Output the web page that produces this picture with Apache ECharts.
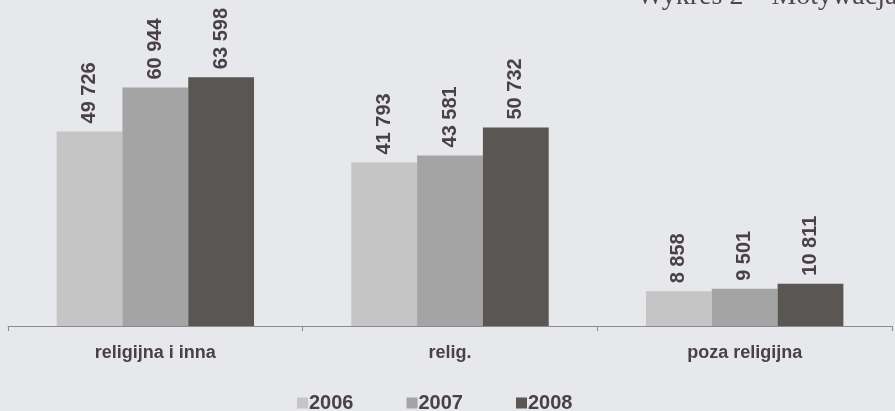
<!DOCTYPE html>
<html>
<head>
<meta charset="utf-8">
<script src="https://cdn.jsdelivr.net/npm/echarts@6/dist/echarts.min.js"></script>
<style>
  html, body { margin: 0; padding: 0; background: #e7e8eb; }
  #chart { width: 895px; height: 411px; }
</style>
</head>
<body>
<div id="chart"></div>
<script>
// Motywacja: liczba osób wg rodzaju motywacji, lata 2006–2008
const categories = ['religijna i inna', 'relig.', 'poza religijna'];
const years = ['2006', '2007', '2008'];
const values2006 = [49726, 41793, 8858];
const values2007 = [60944, 43581, 9501];
const values2008 = [63598, 50732, 10811];
const yearColors = ['#c4c5c4', '#a4a4a4', '#5a5654'];

const textColor = '#4a4049';
const fontFamily = '"Liberation Sans", Arial, sans-serif';

// group thousands with a space, e.g. 49 726
const fmt = v => String(v).replace(/\B(?=(\d{3})+(?!\d))/g, ' ');

const seriesData = [values2006, values2007, values2008];

const chart = echarts.init(document.getElementById('chart'), null, { renderer: 'canvas' });
chart.setOption({
  backgroundColor: '#e7e8eb',
  animation: false,
  graphic: [{
    type: 'text',
    left: 637,
    top: -17,
    style: {
      text: 'Wykres 2 – Motywacja',
      font: '28px "Liberation Serif", "DejaVu Serif", serif',
      fill: '#4f4453'
    }
  }],
  legend: {
    data: years,
    left: 292,
    top: 388,
    itemWidth: 11,
    itemHeight: 11,
    itemGap: 53,
    icon: 'rect',
    textStyle: {
      color: textColor,
      fontFamily: fontFamily,
      fontWeight: 'bold',
      fontSize: 20,
      padding: [0, 0, 0, -4]
    }
  },
  grid: { left: 8, right: 3, top: 13, bottom: 85 },
  xAxis: {
    type: 'category',
    data: categories,
    axisLine: { lineStyle: { color: '#8c8c8e', width: 1 } },
    axisTick: { show: true, length: 5, lineStyle: { color: '#8c8c8e' } },
    axisLabel: {
      color: textColor,
      fontFamily: fontFamily,
      fontWeight: 'bold',
      fontSize: 18,
      margin: 18
    }
  },
  yAxis: {
    type: 'value',
    min: 0,
    max: 80000,
    show: false,
    splitLine: { show: false }
  },
  series: years.map((y, i) => ({
    name: y,
    type: 'bar',
    data: seriesData[i],
    barGap: '0%',
    barCategoryGap: '33%',
    itemStyle: { color: yearColors[i] },
    label: {
      show: true,
      position: 'top',
      rotate: 90,
      align: 'left',
      verticalAlign: 'middle',
      distance: 8,
      color: textColor,
      fontFamily: fontFamily,
      fontWeight: 'bold',
      fontSize: 20,
      formatter: p => fmt(p.value)
    }
  }))
});
</script>
</body>
</html>
